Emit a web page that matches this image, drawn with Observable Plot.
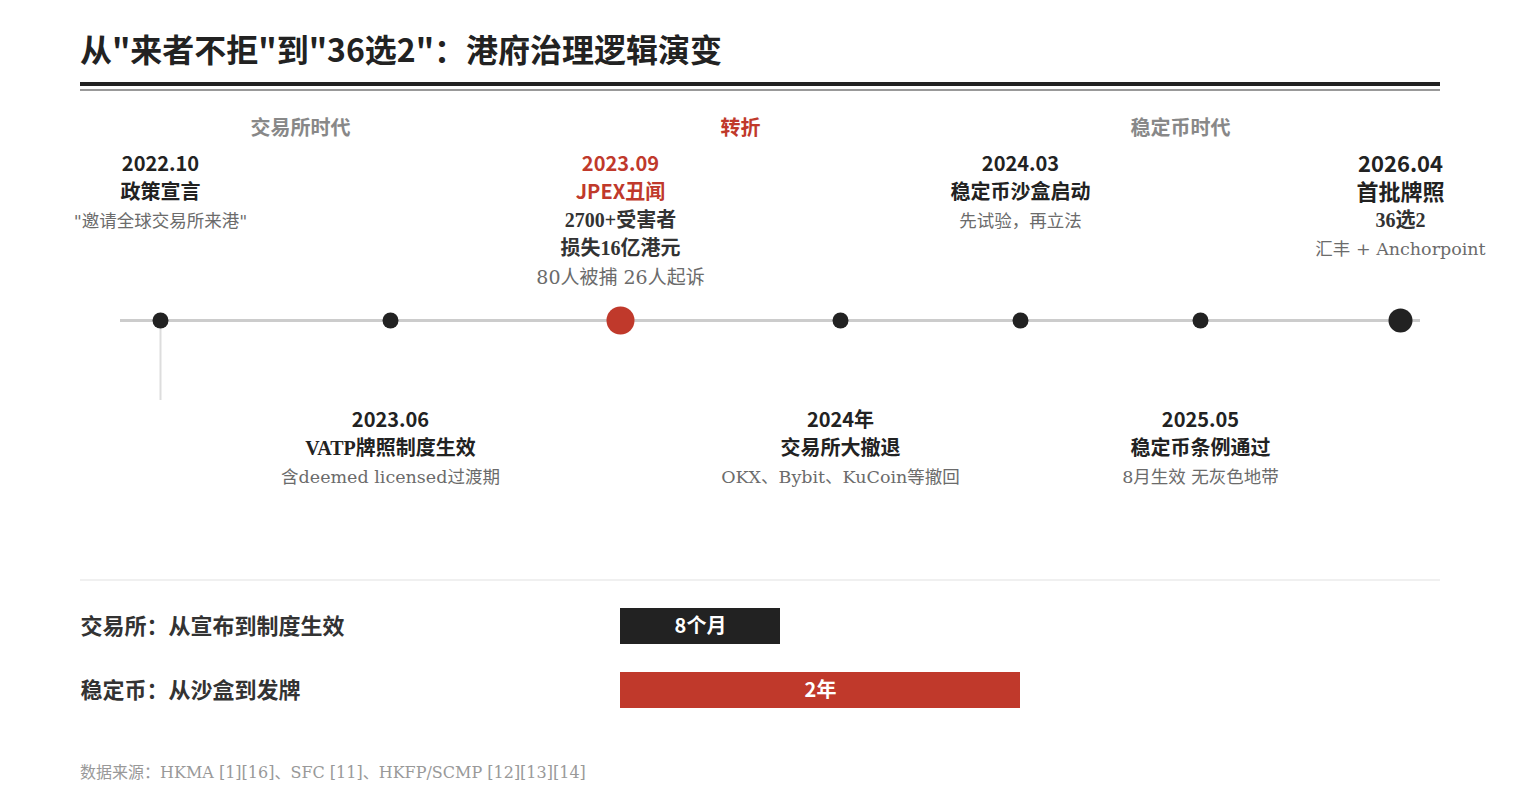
<!DOCTYPE html>
<html>
<head>
<meta charset="utf-8">
<script src="https://cdn.jsdelivr.net/npm/d3@7"></script>
<script src="https://cdn.jsdelivr.net/npm/@observablehq/plot@0.6"></script>
<style>
  html, body { margin: 0; padding: 0; background: #fff; }
  body { width: 1520px; height: 800px; position: relative; overflow: hidden; font-family: "Noto Sans CJK SC", "Noto Sans", sans-serif; }
  #title { position: absolute; left: 80px; top: 23px; font-size: 32px; font-weight: 700; color: #222; line-height: 50px; white-space: nowrap; }
  .rule { position: absolute; left: 80px; width: 1360px; }
  #r1 { top: 82px; height: 4px; background: #222; }
  #r2 { top: 89px; height: 2px; background: #999; }
  #sep { position: absolute; left: 80px; width: 1360px; top: 579px; height: 2px; background: #f0f0f0; }
  #footer { position: absolute; left: 80px; top: 760px; font-family: "DejaVu Serif", "Noto Sans CJK SC", serif; font-size: 16px; color: #999; white-space: nowrap; line-height: 26px; }
  .chart { position: absolute; left: 0; }
  .chart svg { max-width: none !important; }
</style>
</head>
<body>
<div id="title"></div>
<div class="rule" id="r1"></div>
<div class="rule" id="r2"></div>
<div id="eraChart" class="chart" style="top:100px"></div>
<div id="timeline" class="chart" style="top:100px"></div>
<div id="sep"></div>
<div id="compare" class="chart" style="top:594px"></div>
<div id="footer"></div>
<script>
// ---------------- DATA ----------------
const titleText = "从\"来者不拒\"到\"36选2\"：港府治理逻辑演变";
const eras = ["交易所时代", "转折", "稳定币时代"];
const eraKinds = ["normal", "turning", "normal"];

const eventDates  = ["2022.10", "2023.06", "2023.09", "2024年", "2024.03", "2025.05", "2026.04"];
const eventTitles = ["政策宣言", "VATP牌照制度生效", "JPEX丑闻", "交易所大撤退", "稳定币沙盒启动", "稳定币条例通过", "首批牌照"];
const eventDetails = [[], [], ["2700+受害者", "损失16亿港元"], [], [], [], ["36选2"]];
const eventNotes  = ["\"邀请全球交易所来港\"", "含deemed licensed过渡期", "80人被捕 26人起诉", "OKX、Bybit、KuCoin等撤回", "先试验，再立法", "8月生效 无灰色地带", "汇丰 + Anchorpoint"];
const eventSides  = ["above", "below", "above", "below", "above", "below", "above"];
const eventKinds  = ["normal", "normal", "turning", "normal", "normal", "normal", "milestone"];

const compareLabels = ["交易所：从宣布到制度生效", "稳定币：从沙盒到发牌"];
const compareValues = [8, 20];   // bar lengths
const compareTexts  = ["8个月", "2年"];
const compareKinds  = ["exchange", "stablecoin"];

const sourceText = "数据来源：HKMA [1][16]、SFC [11]、HKFP/SCMP [12][13][14]";

// ---------------- STYLE / LAYOUT ----------------
const RED = "#c0392b", DARK = "#222";
const SANS = "\"Noto Sans CJK SC\", \"Noto Sans\", sans-serif";
const SERIF_BOLD = "\"Liberation Serif\", \"Noto Sans CJK SC\", serif";
const SERIF_REG = "\"DejaVu Serif\", \"Noto Sans CJK SC\", serif";
const slotRange = [160, 390, 620, 840, 1020, 1200, 1400];
const TL = { height: 420, lineY: 220, aboveTop: 64, belowTop: 320, lineH: 28 };

document.getElementById("title").textContent = titleText;
document.getElementById("footer").textContent = sourceText;

// ---------------- ERA HEADER ----------------
const eraRows = eras.map((name, i) => ({ name, kind: eraKinds[i] }));
document.getElementById("eraChart").append(Plot.plot({
  width: 1520, height: 56, margin: 0,
  style: { background: "transparent", overflow: "visible" },
  x: { type: "band", domain: eras, range: [80, 1400], padding: 0, axis: null },
  marks: [
    Plot.text(eraRows, {
      x: "name", frameAnchor: "middle", text: "name",
      fill: d => d.kind === "turning" ? RED : "#888",
      fontFamily: SANS, fontWeight: 700, fontSize: 20
    })
  ]
}));

// ---------------- TIMELINE ----------------
const events = eventDates.map((date, i) => ({
  i, date, title: eventTitles[i], details: eventDetails[i], note: eventNotes[i],
  side: eventSides[i], kind: eventKinds[i]
}));
const rows = [];
for (const e of events) {
  const lines = [
    { text: e.date, role: "date" },
    { text: e.title, role: "title" },
    ...e.details.map(t => ({ text: t, role: "detail" })),
    { text: e.note, role: "note" }
  ];
  const top = e.side === "above" ? TL.aboveTop : TL.belowTop;
  lines.forEach((l, k) => rows.push({ ...l, i: e.i, kind: e.kind, y: top + k * TL.lineH + (l.role === "note" ? 1 : 0) }));
}
const isSansRow = d => d.role === "date" || (d.role === "title" && d.kind !== "normal");
const rowSize = d => {
  if (d.kind === "milestone" && (d.role === "date" || d.role === "title")) return 22;
  if (d.role === "note") return d.kind === "turning" ? 19 : 17.5;
  return 20;
};
const rowFill = d => {
  if (d.kind === "turning" && (d.role === "date" || d.role === "title")) return RED;
  if (d.role === "note") return "#6b6b6b";
  if (d.role === "detail") return "#333";
  return DARK;
};
const dotR = d => d.kind === "turning" ? 14 : d.kind === "milestone" ? 12 : 8;

document.getElementById("timeline").append(Plot.plot({
  width: 1520, height: TL.height,
  marginLeft: 120, marginRight: 100, marginTop: 0, marginBottom: 0,
  style: { background: "transparent", overflow: "visible" },
  x: { type: "linear", domain: d3.range(events.length), range: slotRange, axis: null },
  y: { type: "identity", axis: null },
  r: { type: "identity" },
  marks: [
    Plot.ruleY([TL.lineY], { stroke: "#cccccc", strokeWidth: 3 }),
    Plot.ruleX(events.filter(e => e.i === 0), { x: "i", y1: TL.lineY, y2: TL.lineY + 80, stroke: "#dddddd", strokeWidth: 2 }),
    Plot.dot(events, { x: "i", y: () => TL.lineY, r: dotR, fill: d => d.kind === "turning" ? RED : DARK, stroke: "none" }),
    Plot.text(rows.filter(isSansRow), { x: "i", y: "y", text: "text", fontFamily: SANS, fontWeight: 700, fontSize: rowSize, fill: rowFill }),
    Plot.text(rows.filter(d => !isSansRow(d) && d.role !== "note"), { x: "i", y: "y", text: "text", fontFamily: SERIF_BOLD, fontWeight: 700, fontSize: rowSize, fill: rowFill }),
    Plot.text(rows.filter(d => d.role === "note"), { x: "i", y: "y", text: "text", fontFamily: SERIF_REG, fontWeight: 400, fontSize: rowSize, fill: rowFill })
  ]
}));

// ---------------- COMPARISON BARS ----------------
const comp = compareLabels.map((label, i) => ({ label, value: compareValues[i], text: compareTexts[i], kind: compareKinds[i] }));
document.getElementById("compare").append(Plot.plot({
  width: 1520, height: 128, margin: 0,
  style: { background: "transparent", overflow: "visible" },
  x: { type: "linear", domain: [0, 20], range: [620, 1020], axis: null },
  y: { type: "band", domain: compareLabels, range: [0, 128], paddingInner: 0.4375, paddingOuter: 0.21875, axis: null },
  marks: [
    Plot.barX(comp, { x: "value", y: "label", fill: d => d.kind === "stablecoin" ? RED : DARK }),
    Plot.text(comp, { x: d => d.value / 2, y: "label", text: "text", fill: "white", fontFamily: SANS, fontWeight: 700, fontSize: 20 }),
    Plot.text(comp, { y: "label", text: "label", frameAnchor: "left", dx: 80, textAnchor: "start", fontFamily: SERIF_BOLD, fontWeight: 700, fontSize: 22, fill: "#333" })
  ]
}));
</script>
</body>
</html>
